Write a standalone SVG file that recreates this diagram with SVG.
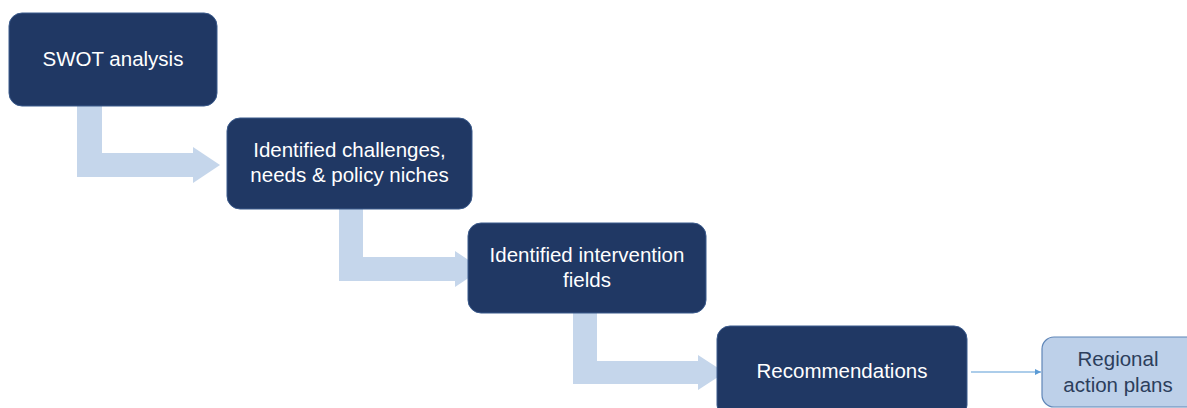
<svg xmlns="http://www.w3.org/2000/svg" width="1187" height="408" viewBox="0 0 1187 408">
  <style>
    .dark { fill: #203864; stroke: #3a5a8c; stroke-width: 1; }
    .light { fill: #bdd0e9; stroke: #5f86b8; stroke-width: 1.2; }
    .elbow { fill: #c5d6eb; stroke: none; }
    .t { font-family: "Liberation Sans", Arial, sans-serif; font-size: 20.5px; text-anchor: middle; }
    .tw { fill: #ffffff; }
    .td { fill: #2c3e5c; }
    .thin { stroke: #5b9bd5; stroke-width: 1.2; fill: none; }
  </style>
  <defs>
    <marker id="ah" viewBox="0 0 10 10" refX="10" refY="5" markerWidth="6" markerHeight="6" orient="auto" markerUnits="userSpaceOnUse">
      <path d="M0,0 L10,5 L0,10 Z" fill="#5b9bd5"/>
    </marker>
  </defs>
  <rect width="1187" height="408" fill="#ffffff"/>
  <g id="connectors">
    <path class="elbow" d="M77,106 H102 V153 H193 V147 L220,165 L193,183 V177 H77 Z"/>
    <path class="elbow" d="M339,209 H363 V257 H455 V251 L482,269 L455,287 V281 H339 Z"/>
    <path class="elbow" d="M573,313 H597 V361 H698 V355 L725,372.5 L698,390 V384 H573 Z"/>
    <line class="thin" x1="971" y1="372" x2="1041" y2="372" marker-end="url(#ah)"/>
  </g>
  <g id="swot">
    <rect class="dark" x="9" y="13" width="208" height="93" rx="13"/>
    <text class="t tw" x="113" y="66">SWOT analysis</text>
  </g>
  <g id="challenges">
    <rect class="dark" x="227" y="118" width="245" height="91" rx="13"/>
    <text class="t tw" x="349.5" y="157">Identified challenges,</text>
    <text class="t tw" x="349.5" y="182">needs &amp; policy niches</text>
  </g>
  <g id="fields">
    <rect class="dark" x="468" y="223" width="238" height="90" rx="13"/>
    <text class="t tw" x="587" y="262">Identified intervention</text>
    <text class="t tw" x="587" y="287">fields</text>
  </g>
  <g id="recommendations">
    <rect class="dark" x="717" y="326" width="250" height="92" rx="13"/>
    <text class="t tw" x="842" y="378">Recommendations</text>
  </g>
  <g id="regional">
    <rect class="light" x="1042" y="337" width="170" height="70" rx="12"/>
    <text class="t td" x="1118" y="366">Regional</text>
    <text class="t td" x="1118" y="392">action plans</text>
  </g>
</svg>
